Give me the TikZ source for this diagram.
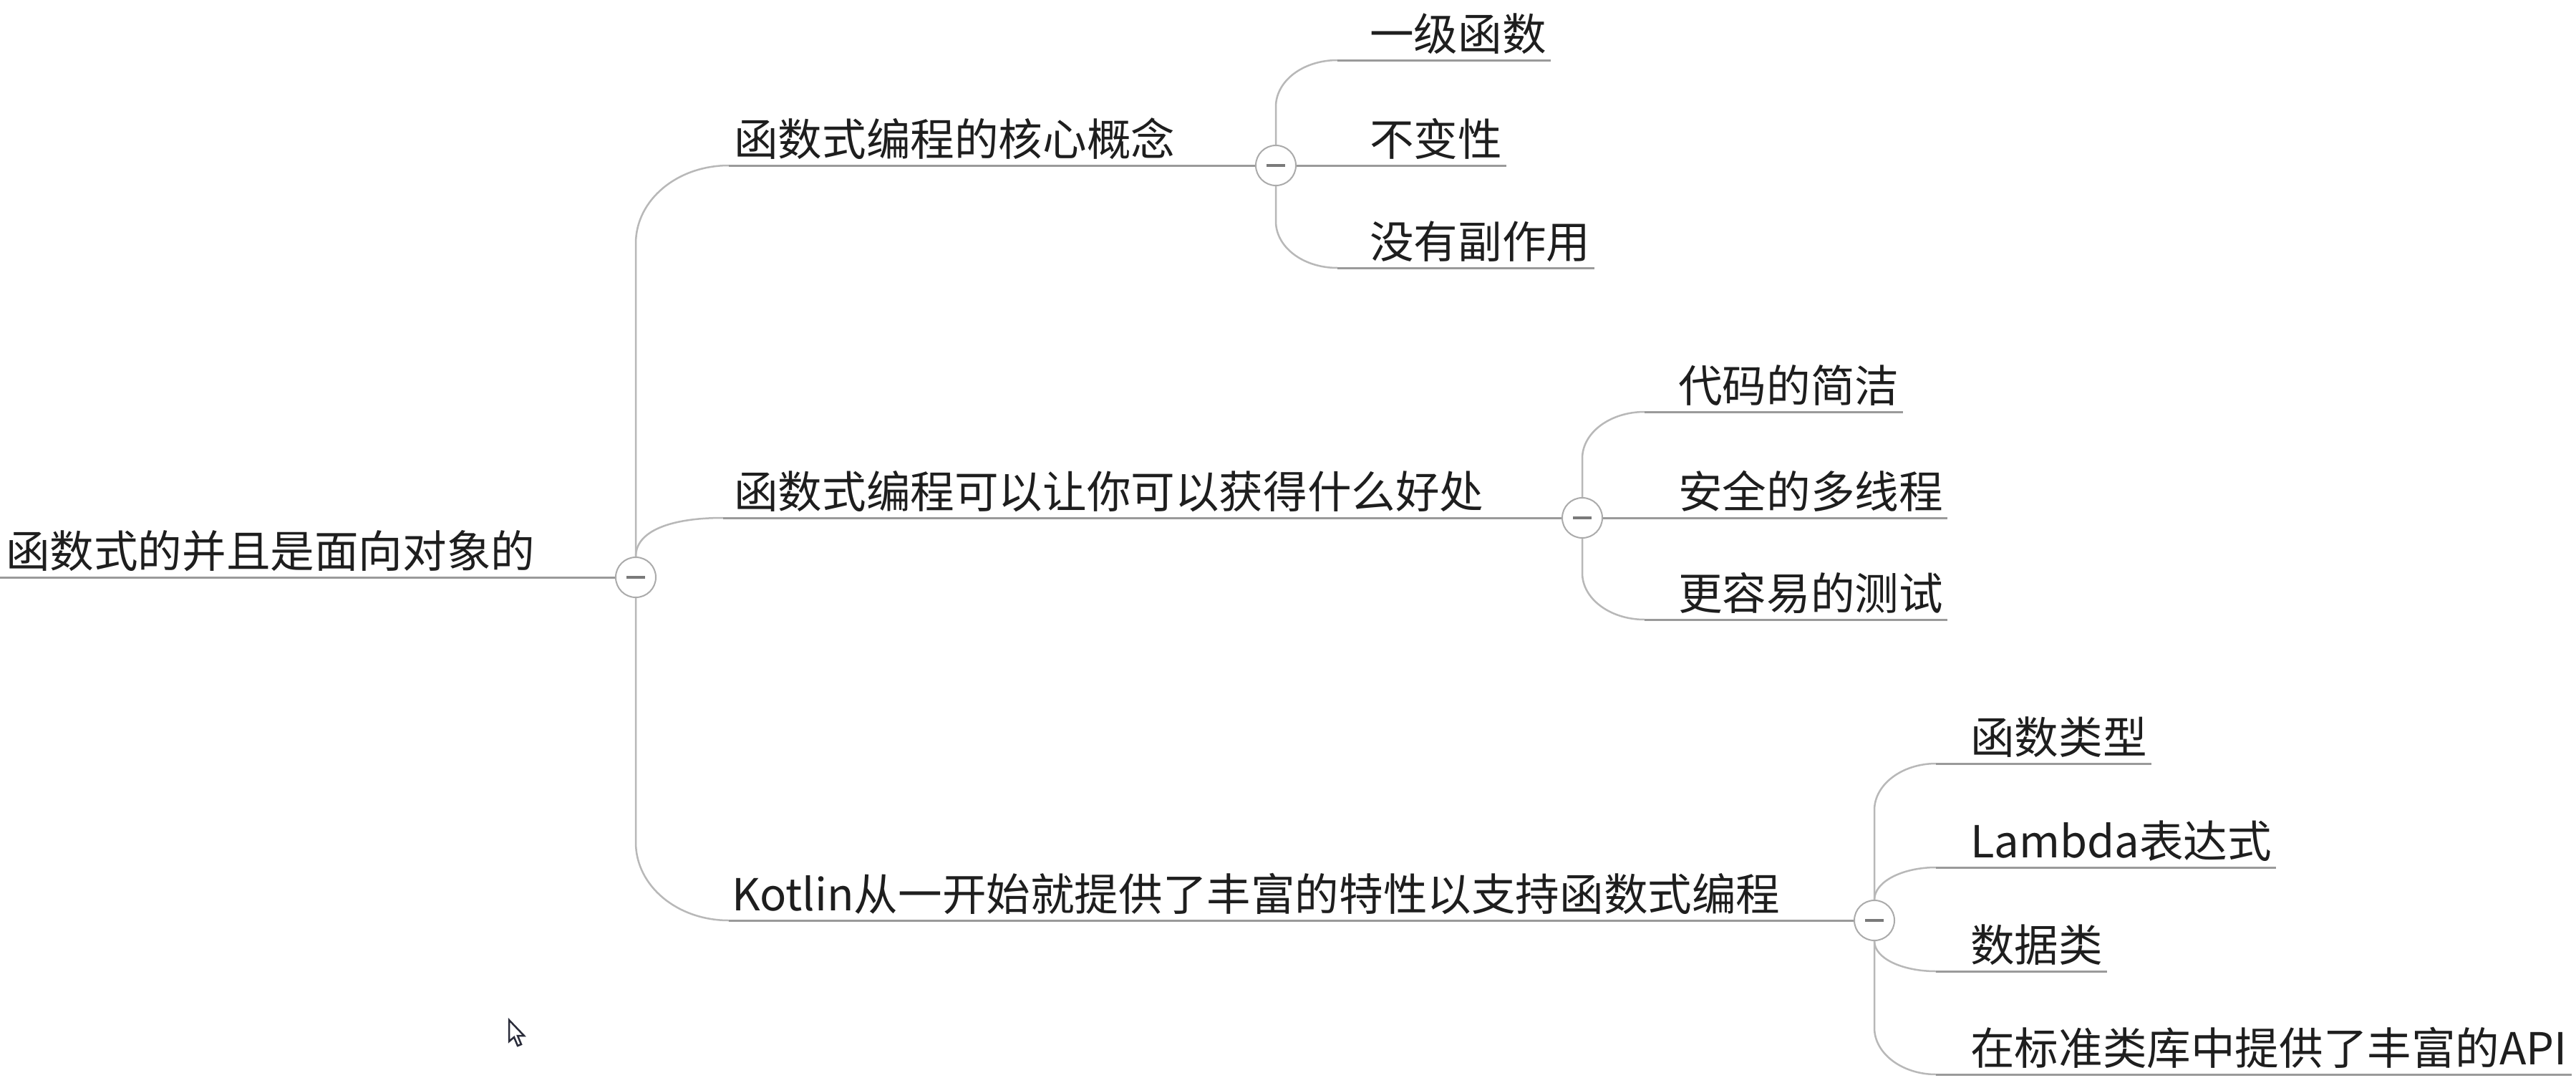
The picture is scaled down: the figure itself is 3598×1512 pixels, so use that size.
\documentclass[tikz,border=0pt]{standalone}
\usepackage{fontspec}
\newfontfamily\topicfont{Noto Sans CJK SC}
\usepackage{xcolor}
\definecolor{ink}{HTML}{1E1E1E}
\definecolor{linegray}{HTML}{9A9A9A}
\definecolor{twiggray}{HTML}{B8B8B8}
\definecolor{foldgray}{HTML}{ABABAB}
\definecolor{minusgray}{HTML}{7A7A7A}
\definecolor{cursorink}{HTML}{2A2C3A}

\begin{document}
\begin{tikzpicture}[
    x=1pt, y=-1pt,
    topic/.style={font=\topicfont\fontsize{61.6pt}{72pt}\selectfont, text=ink,
                  anchor=south west, inner xsep=6pt, inner ysep=13pt, text depth=0pt},
    fold/.style={circle, draw=foldgray, line width=2pt, fill=white,
                 minimum size=56pt, inner sep=0pt,
                 path picture={\draw[line width=3.5pt, minusgray]
                   ([xshift=-13pt]path picture bounding box.center) --
                   ([xshift=13pt]path picture bounding box.center);}},
    uline/.style={draw=linegray, line width=3pt},
    twig/.style={draw=twiggray, line width=2.5pt},
  ]
    \fill[white] (0,0) rectangle (3598,1512);
    \useasboundingbox (0,0) rectangle (3598,1512);

    % --- Root ---
    \coordinate (root-in) at (0,806);
    \node[topic] (root) at (2,806) {函数式的并且是面向对象的};

    % --- Main branches ---
    \coordinate (core-in)   at (1018,231);
    \coordinate (gain-in)   at (1010,723);
    \coordinate (kotlin-in) at (1018,1285);
    \node[topic] (core)   at (1019,231)  {函数式编程的核心概念};
    \node[topic] (gain)   at (1019,723)  {函数式编程可以让你可以获得什么好处};
    \node[topic] (kotlin) at (1016,1285) {Kotlin从一开始就提供了丰富的特性以支持函数式编程};

    % --- Leaves: core ideas ---
    \coordinate (firstfn-in) at (1868,84);
    \coordinate (noside-in)  at (1868,374);
    \node[topic] (firstfn) at (1907,84)  {一级函数};
    \node[topic] (immut)   at (1907,231) {不变性};
    \node[topic] (noside)  at (1907,374) {没有副作用};

    % --- Leaves: gains ---
    \coordinate (concise-in) at (2297,575);
    \coordinate (testing-in) at (2297,865);
    \node[topic] (concise) at (2338,575) {代码的简洁};
    \node[topic] (threads) at (2338,723) {安全的多线程};
    \node[topic] (testing) at (2338,865) {更容易的测试};

    % --- Leaves: Kotlin features ---
    \coordinate (fntype-in)    at (2704,1066);
    \coordinate (lambda-in)    at (2704,1211);
    \coordinate (dataclass-in) at (2704,1356);
    \coordinate (stdapi-in)    at (2704,1500);
    \node[topic] (fntype)    at (2746,1066) {函数类型};
    \node[topic] (lambda)    at (2746,1211) {Lambda表达式};
    \node[topic] (dataclass) at (2746,1356) {数据类};
    \node[topic] (stdapi)    at (2746,1500) {在标准类库中提供了丰富的API};

    % --- Fold buttons ---
    \node[fold] (rootdot)   at (888,806)   {};
    \node[fold] (coredot)   at (1782,231)  {};
    \node[fold] (gaindot)   at (2210,723)  {};
    \node[fold] (kotlindot) at (2618,1285) {};

    % --- Root to branches ---
    \draw[uline] (root-in) -- (rootdot.west);
    \draw[twig] (rootdot.north) -- ++(0,-437) .. controls +(0,-61) and +(-72,0) .. (core-in);
    \draw[twig] (rootdot.north) .. controls +(0,-35) and +(-75,0) .. (gain-in);
    \draw[twig] (rootdot.south) -- ++(0,341) .. controls +(0,61) and +(-72,0) .. (kotlin-in);
    \draw[uline] (core-in)   -- (coredot.west);
    \draw[uline] (gain-in)   -- (gaindot.west);
    \draw[uline] (kotlin-in) -- (kotlindot.west);

    % --- Core ideas ---
    \draw[twig] (coredot.north) -- ++(0,-53) .. controls +(0,-36) and +(-48,0) .. (firstfn-in);
    \draw[twig] (coredot.south) -- ++(0,49) .. controls +(0,36) and +(-48,0) .. (noside-in);
    \draw[uline] (firstfn-in)   -- (firstfn.south east);
    \draw[uline] (coredot.east) -- (immut.south east);
    \draw[uline] (noside-in)    -- (noside.south east);

    % --- Gains ---
    \draw[twig] (gaindot.north) -- ++(0,-54) .. controls +(0,-36) and +(-48,0) .. (concise-in);
    \draw[twig] (gaindot.south) -- ++(0,48) .. controls +(0,36) and +(-48,0) .. (testing-in);
    \draw[uline] (concise-in)   -- (concise.south east);
    \draw[uline] (gaindot.east) -- (threads.south east);
    \draw[uline] (testing-in)   -- (testing.south east);

    % --- Kotlin features ---
    \draw[twig] (kotlindot.north) -- ++(0,-125) .. controls +(0,-36) and +(-47,0) .. (fntype-in);
    \draw[twig] (kotlindot.north) .. controls +(0,-25) and +(-47,0) .. (lambda-in);
    \draw[twig] (kotlindot.south) .. controls +(0,24) and +(-47,0) .. (dataclass-in);
    \draw[twig] (kotlindot.south) -- ++(0,121) .. controls +(0,36) and +(-47,0) .. (stdapi-in);
    \draw[uline] (fntype-in)    -- (fntype.south east);
    \draw[uline] (lambda-in)    -- (lambda.south east);
    \draw[uline] (dataclass-in) -- (dataclass.south east);
    \draw[uline] (stdapi-in)    -- (stdapi.south east);

    % --- Mouse pointer ---
    \draw[cursorink, fill=white, line width=2.5pt, line join=miter]
      (711,1424) -- (711,1454) -- (718,1448) -- (723,1460) -- (728,1458)
      -- (723,1446) -- (732,1446) -- cycle;
  \end{tikzpicture}
\end{document}
